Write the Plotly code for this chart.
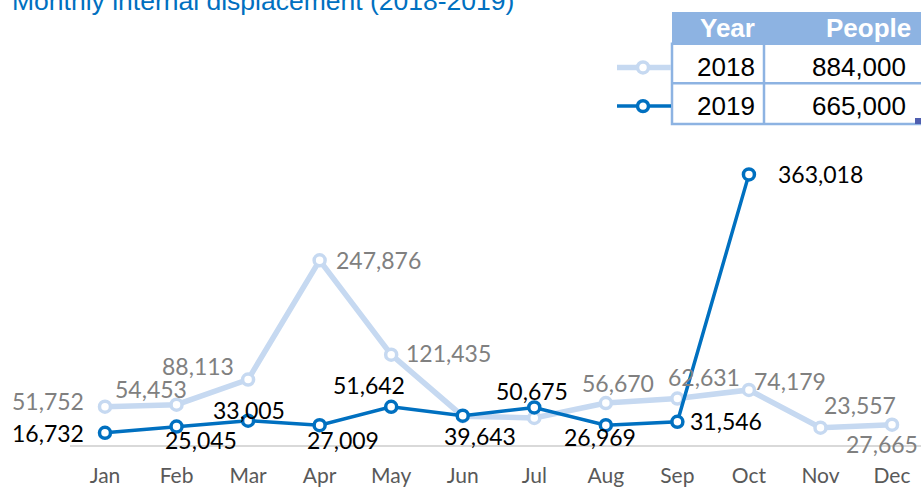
import plotly.graph_objects as go

months = ["Jan", "Feb", "Mar", "Apr", "May", "Jun", "Jul", "Aug", "Sep", "Oct", "Nov", "Dec"]
vals_2018 = [51752, 54453, 88113, 247876, 121435, 39000, 36700, 56670, 62631, 74179, 23557, 27665]
vals_2019 = [16732, 25045, 33005, 27009, 51642, 39643, 50675, 26969, 31546, 363018, None, None]
show_2018 = [True, True, True, True, True, False, False, True, True, True, True, True]
table_years = ["2018", "2019"]
table_people = ["884,000", "665,000"]
table_header = ["Year", "People"]
title_text = "Monthly internal displacement (2018-2019)"

# label offsets (pixels) from each point (style only)
off_2018 = [(-57, -6), (-26, -16), (-50, -14), (59, 0), (57, -2), (0, 0),
            (0, 0), (12, -20), (27, -22), (41, -9), (40, -23), (-10, 19)]
off_2019 = [(-57, 0), (24, 13), (1, -11), (23, 15), (-22, -22), (17, 20),
            (-2, -16), (-6, 12), (49, -1), (72, 0), (0, 0), (0, 0)]

C18 = "#c6d9f1"
C19 = "#0070c0"
TBL = "#8db3e2"
W, H = 921, 487
LBL_FONT = "Lato, Calibri, Carlito, sans-serif"
ARIAL = "Liberation Sans, Arial, sans-serif"

x_idx = list(range(len(months)))

fig = go.Figure()
fig.add_trace(go.Scatter(
    x=x_idx, y=vals_2018, mode="lines+markers", name="2018",
    line=dict(color=C18, width=5.5),
    marker=dict(size=11, color="white", line=dict(color=C18, width=3.5)),
    cliponaxis=False, hoverinfo="x+y",
))
fig.add_trace(go.Scatter(
    x=x_idx, y=vals_2019, mode="lines+markers", name="2019",
    line=dict(color=C19, width=3.5),
    marker=dict(size=11, color="white", line=dict(color=C19, width=3.5)),
    cliponaxis=False, hoverinfo="x+y",
))

annotations = []
for i, (v, s) in enumerate(zip(vals_2018, show_2018)):
    if s:
        dx, dy = off_2018[i]
        annotations.append(dict(x=i, y=v, xref="x", yref="y", text=f"{v:,}", showarrow=False,
                                xanchor="center", yanchor="middle", xshift=dx, yshift=-dy,
                                font=dict(family=LBL_FONT, size=23, color="#808080")))
for i, v in enumerate(vals_2019):
    if v is not None:
        dx, dy = off_2019[i]
        annotations.append(dict(x=i, y=v, xref="x", yref="y", text=f"{v:,}", showarrow=False,
                                xanchor="center", yanchor="middle", xshift=dx, yshift=-dy,
                                font=dict(family=LBL_FONT, size=23, color="#000000")))

def px(xp):
    return xp / W

def py(yp):
    return 1 - yp / H

# title
annotations.append(dict(text=title_text, xref="paper", yref="paper", x=px(10), y=py(1),
                        xanchor="left", yanchor="middle", showarrow=False,
                        font=dict(family=ARIAL, size=26.5, color=C19)))

# table (header + two rows) drawn with shapes and texts
shapes = []
shapes.append(dict(type="rect", xref="paper", yref="paper", x0=px(672), x1=px(925), y0=py(44), y1=py(12),
                   fillcolor=TBL, line=dict(width=0), layer="above"))
shapes.append(dict(type="rect", xref="paper", yref="paper", x0=px(672), x1=px(930), y0=py(125), y1=py(44),
                   fillcolor="white", line=dict(color=TBL, width=2.5), layer="above"))
shapes.append(dict(type="line", xref="paper", yref="paper", x0=px(672), x1=px(925), y0=py(84), y1=py(84),
                   line=dict(color=TBL, width=2.5), layer="above"))
shapes.append(dict(type="line", xref="paper", yref="paper", x0=px(764), x1=px(764), y0=py(125), y1=py(44),
                   line=dict(color=TBL, width=2.5), layer="above"))
shapes.append(dict(type="rect", xref="paper", yref="paper", x0=px(915), x1=px(921), y0=py(125), y1=py(119),
                   fillcolor="#4f5fb0", line=dict(width=0), layer="above"))

col_right = [757, 908]
for j, h in enumerate(table_header):
    annotations.append(dict(text=f"<b>{h}</b>", xref="paper", yref="paper", x=px(col_right[j] + (5 if j else 0)),
                            y=py(28), xanchor="right", yanchor="middle", showarrow=False,
                            font=dict(family=ARIAL, size=26, color="white")))
row_y = [68, 107]
for r in range(len(table_years)):
    annotations.append(dict(text=table_years[r], xref="paper", yref="paper", x=px(col_right[0]), y=py(row_y[r]),
                            xanchor="right", yanchor="middle", showarrow=False,
                            font=dict(family=ARIAL, size=26, color="black")))
    annotations.append(dict(text=table_people[r], xref="paper", yref="paper", x=px(col_right[1]), y=py(row_y[r]),
                            xanchor="right", yanchor="middle", showarrow=False,
                            font=dict(family=ARIAL, size=26, color="black")))

# legend keys beside the table rows
for yy, col, lw in [(row_y[0], C18, 5.5), (row_y[1], C19, 3.5)]:
    shapes.append(dict(type="line", xref="paper", yref="paper",
                       x0=px(617), x1=px(671), y0=py(yy), y1=py(yy),
                       line=dict(color=col, width=lw)))
    shapes.append(dict(type="circle", xref="paper", yref="paper",
                       x0=px(643 - 5.5), x1=px(643 + 5.5),
                       y0=py(yy + 5.5), y1=py(yy - 5.5),
                       fillcolor="white", line=dict(color=col, width=3.5)))

fig.update_layout(
    width=W, height=H,
    margin=dict(l=0, r=0, t=0, b=0),
    paper_bgcolor="white", plot_bgcolor="white",
    showlegend=False,
    shapes=shapes,
    annotations=annotations,
    xaxis=dict(domain=[70 / W, 1.0], range=[-0.489, 11.405],
               tickmode="array", tickvals=x_idx, ticktext=months,
               showgrid=False, zeroline=False, showline=True, linecolor="#d9d9d9", linewidth=1.5,
               ticks="", ticklabelstandoff=11,
               tickfont=dict(family=LBL_FONT, size=21, color="#595959")),
    yaxis=dict(domain=[1 - 449 / H, 1 - 148 / H], range=[0, 400000],
               visible=False, showgrid=False, zeroline=False),
)

fig.write_html("out.html")
